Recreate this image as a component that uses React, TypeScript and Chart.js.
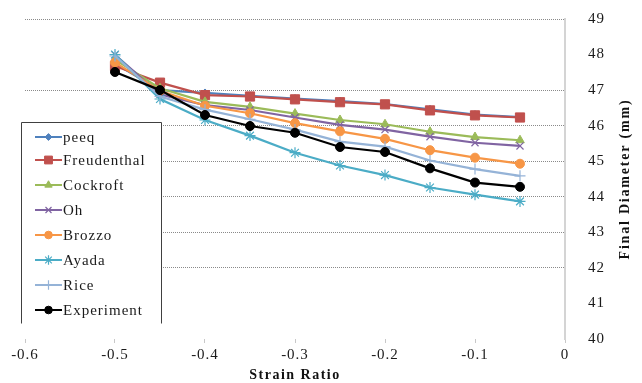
import React, { useEffect, useRef } from 'react';
import { Chart, registerables } from 'chart.js';
import { drawPoint } from 'chart.js/helpers';

Chart.register(...registerables);

const strainRatios = [-0.5, -0.45, -0.4, -0.35, -0.3, -0.25, -0.2, -0.15, -0.1, -0.05];
const peeq = [47.75, 47.0, 46.92, 46.84, 46.76, 46.69, 46.61, 46.46, 46.31, 46.24];
const freudenthal = [47.68, 47.21, 46.86, 46.82, 46.74, 46.66, 46.6, 46.43, 46.29, 46.23];
const cockroft = [47.86, 47.05, 46.67, 46.53, 46.34, 46.16, 46.04, 45.83, 45.68, 45.59];
const oh = [47.99, 46.88, 46.58, 46.44, 46.23, 46.02, 45.89, 45.69, 45.52, 45.43];
const brozzo = [47.78, 46.98, 46.56, 46.35, 46.07, 45.84, 45.63, 45.31, 45.1, 44.93];
const ayada = [48.0, 46.75, 46.16, 45.72, 45.24, 44.88, 44.61, 44.26, 44.06, 43.87];
const rice = [47.96, 46.82, 46.45, 46.18, 45.89, 45.55, 45.41, 45.02, 44.78, 44.59];
const experiment = [47.51, 47.0, 46.3, 45.99, 45.8, 45.4, 45.26, 44.8, 44.4, 44.28];

const seriesNames = ['peeq', 'Freudenthal', 'Cockroft', 'Oh', 'Brozzo', 'Ayada', 'Rice', 'Experiment'];
const seriesValues = [peeq, freudenthal, cockroft, oh, brozzo, ayada, rice, experiment];
const xTickValues = [-0.6, -0.5, -0.4, -0.3, -0.2, -0.1, 0];
const yTickValues = [40, 41, 42, 43, 44, 45, 46, 47, 48, 49];
const xTitle = 'Strain Ratio';
const yTitle = 'Final Diameter (mm)';

const styles = [
  { color: '#4F81BD', point: 'rectRot', radius: 4, bw: 1 },
  { color: '#C0504D', point: 'rect', radius: 6.5, bw: 1 },
  { color: '#9BBB59', point: 'triangle', radius: 5, bw: 1 },
  { color: '#8064A2', point: 'crossRot', radius: 5, bw: 1.2 },
  { color: '#F79646', point: 'circle', radius: 4.5, bw: 1 },
  { color: '#4BACC6', point: 'star', radius: 5.5, bw: 1.2 },
  { color: '#95B3D7', point: 'cross', radius: 5.5, bw: 1.2 },
  { color: '#000000', point: 'circle', radius: 4.5, bw: 1 },
];

const SERIF = '"Liberation Serif", "Times New Roman", serif';

const overlayPlugin = {
  id: 'overlay',
  beforeDraw(chart: any) {
    (chart.ctx as any).letterSpacing = '1px';
  },
  afterDraw(chart: any) {
    const ctx = chart.ctx as CanvasRenderingContext2D;
    const area = chart.chartArea;
    ctx.save();
    // legend box
    const bx = 21.5, by = 122.5, bw = 140, bh = 201;
    ctx.fillStyle = '#ffffff';
    ctx.fillRect(bx, by, bw, bh);
    ctx.strokeStyle = '#404040';
    ctx.lineWidth = 1;
    ctx.beginPath();
    ctx.moveTo(bx, by + bh);
    ctx.lineTo(bx, by);
    ctx.lineTo(bx + bw, by);
    ctx.lineTo(bx + bw, by + bh);
    ctx.stroke();
    const rowY = [137, 160, 185, 210, 235, 260, 285, 310];
    seriesNames.forEach((name, i) => {
      const st = styles[i];
      const y = rowY[i];
      ctx.strokeStyle = st.color;
      ctx.lineWidth = 2;
      ctx.beginPath();
      ctx.moveTo(35, y);
      ctx.lineTo(62, y);
      ctx.stroke();
      ctx.fillStyle = st.color;
      ctx.lineWidth = st.bw;
      drawPoint(ctx, { pointStyle: st.point as any, radius: st.radius * 0.85, borderWidth: st.bw, rotation: 0 } as any, 48.5, y);
      ctx.fillStyle = '#1a1a1a';
      (ctx as any).letterSpacing = '1px';
      ctx.font = `15px ${SERIF}`;
      ctx.textAlign = 'left';
      ctx.textBaseline = 'middle';
      ctx.fillText(name, 63, y + 1);
    });
    // axis titles
    ctx.fillStyle = '#111';
    ctx.font = `bold 14px ${SERIF}`;
    (ctx as any).letterSpacing = '1.5px';
    ctx.textAlign = 'center';
    ctx.textBaseline = 'middle';
    ctx.fillText(xTitle, (area.left + area.right) / 2, 375);
    ctx.translate(625, (area.top + area.bottom) / 2);
    ctx.rotate(-Math.PI / 2);
    (ctx as any).letterSpacing = '1.8px';
    ctx.fillText(yTitle, 0, 0);
    ctx.restore();
  },
};

export default function App() {
  const ref = useRef<HTMLCanvasElement | null>(null);
  useEffect(() => {
    if (!ref.current) return;
    const chart = new Chart(ref.current, {
      type: 'line',
      data: {
        datasets: seriesNames.map((name, i) => ({
          label: name,
          data: strainRatios.map((x, j) => ({ x, y: seriesValues[i][j] })),
          borderColor: styles[i].color,
          backgroundColor: styles[i].color,
          pointBackgroundColor: styles[i].color,
          pointBorderColor: styles[i].color,
          pointStyle: styles[i].point as any,
          pointRadius: styles[i].radius,
          pointBorderWidth: styles[i].bw,
          borderWidth: 2.2,
          tension: 0,
          order: seriesNames.length - i,
        })),
      },
      options: {
        animation: false,
        responsive: false,
        devicePixelRatio: 1,
        layout: { padding: { top: 19, left: 25, right: 0, bottom: 0 } },
        plugins: { legend: { display: false }, tooltip: { enabled: false } },
        scales: {
          x: {
            type: 'linear',
            min: -0.6,
            max: 0,
            afterBuildTicks: (s: any) => {
              s.ticks = xTickValues.map((v) => ({ value: v }));
            },
            afterFit: (s: any) => {
              s.height = 44;
            },
            ticks: {
              callback: (v: any) => String(Number(Number(v).toFixed(1))),
              font: { family: SERIF, size: 15 },
              color: '#1a1a1a',
              padding: 3,
              maxRotation: 0,
            },
            grid: { drawOnChartArea: false, drawTicks: true, tickLength: 4, color: '#c8c8c8' },
            border: { display: false },
          },
          y: {
            type: 'linear',
            position: 'right',
            min: 40,
            max: 49,
            afterBuildTicks: (s: any) => {
              s.ticks = yTickValues.map((v) => ({ value: v }));
            },
            afterFit: (s: any) => {
              s.width = 77;
              s.paddingTop = 0;
              s.paddingBottom = 0;
            },
            ticks: {
              font: { family: SERIF, size: 15 },
              color: '#1a1a1a',
              padding: 3,
            },
            grid: {
              drawTicks: true,
              tickLength: 20,
              tickColor: 'rgba(0,0,0,0)',
              color: (c: any) =>
                c.tick && (c.tick.value === 48 || c.tick.value === 41 || c.tick.value === 40) ? 'rgba(0,0,0,0)' : '#8a8a8a',
              lineWidth: 1,
            },
            border: { display: true, color: '#d4d4d4', width: 2, dash: [1, 1] },
          },
        },
      },
      plugins: [overlayPlugin],
    });
    return () => chart.destroy();
  }, []);
  return (
    <div style={{ position: 'fixed', left: 0, top: 0, width: 642, height: 383, background: '#fff' }}>
      <canvas ref={ref} width={642} height={383} style={{ display: 'block', width: 642, height: 383 }} />
    </div>
  );
}
